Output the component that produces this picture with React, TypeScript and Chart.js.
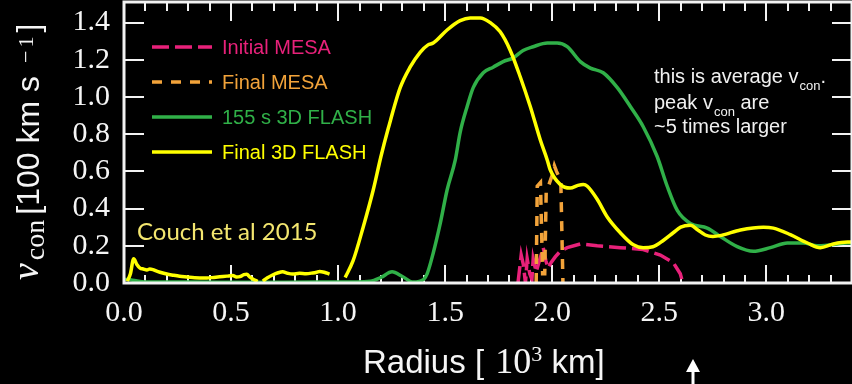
import React, { useEffect, useRef } from "react";
import { Chart, registerables } from "chart.js";
Chart.register(...registerables);

// ---------- data ----------
const xTickValues = [0, 0.5, 1.0, 1.5, 2.0, 2.5, 3.0];
const yTickValues = [0, 0.2, 0.4, 0.6, 0.8, 1.0, 1.2, 1.4];

const legendLabels = ["Initial MESA", "Final MESA", "155 s 3D FLASH", "Final 3D FLASH"];

const initialMesaX = [1.84, 1.855, 1.865, 1.875, 1.883, 1.895, 1.905, 1.911, 1.925, 1.94, 1.958, 1.97, 1.981, 1.995, 2.014, 2.037, 2.07, 2.131, 2.21, 2.318, 2.425, 2.505, 2.565, 2.598, 2.61];
const initialMesaY = [0.0, 0.15, 0.10, 0.0, 0.13, 0.05, 0.02, 0.13, 0.06, 0.12, 0.19, 0.12, 0.08, 0.11, 0.14, 0.17, 0.19, 0.21, 0.20, 0.19, 0.18, 0.15, 0.11, 0.05, 0.0];

const finalMesaX = [1.925, 1.93, 1.945, 1.955, 1.965, 1.972, 1.985, 2.0, 2.01, 2.02, 2.04, 2.05];
const finalMesaY = [0.0, 0.52, 0.54, 0.05, 0.05, 0.50, 0.53, 0.58, 0.63, 0.60, 0.55, 0.0];

const flash155X = [0.0, 0.04, 0.1, 0.3, 0.6, 0.9, 1.0, 1.15, 1.2, 1.252, 1.3, 1.35, 1.4, 1.416, 1.444, 1.477, 1.509, 1.547, 1.57, 1.603, 1.631, 1.678, 1.724, 1.771, 1.818, 1.864, 1.911, 1.977, 2.023, 2.07, 2.131, 2.178, 2.238, 2.304, 2.364, 2.425, 2.49, 2.537, 2.584, 2.645, 2.724, 2.785, 2.864, 2.939, 3.019, 3.098, 3.173, 3.238, 3.299, 3.379, 3.4];
const flash155Y = [0.02, 0.015, 0.006, 0.005, 0.004, 0.005, 0.005, 0.01, 0.03, 0.06, 0.035, 0.005, 0.02, 0.05, 0.16, 0.32, 0.50, 0.66, 0.81, 0.95, 1.05, 1.13, 1.16, 1.19, 1.21, 1.25, 1.27, 1.29, 1.29, 1.27, 1.19, 1.155, 1.13, 1.05, 0.95, 0.84, 0.68, 0.52, 0.39, 0.32, 0.295, 0.25, 0.195, 0.17, 0.19, 0.215, 0.215, 0.20, 0.205, 0.215, 0.215];

const finalFlashX = [0.015, 0.03, 0.045, 0.06, 0.075, 0.09, 0.107, 0.12, 0.135, 0.15, 0.168, 0.2, 0.228, 0.26, 0.294, 0.33, 0.387, 0.42, 0.447, 0.48, 0.508, 0.525, 0.541, 0.56, 0.573, 0.59, 0.601, 0.624, 0.636, 0.648, 0.67, 0.694, 0.72, 0.741, 0.765, 0.788, 0.82, 0.85, 0.881, 0.9, 0.913, 0.935, 0.96, 0.99, 1.033, 1.07, 1.117, 1.164, 1.2, 1.234, 1.29, 1.336, 1.383, 1.42, 1.444, 1.509, 1.57, 1.617, 1.664, 1.71, 1.757, 1.804, 1.85, 1.897, 1.944, 1.977, 1.99, 2.037, 2.084, 2.12, 2.145, 2.164, 2.21, 2.257, 2.318, 2.379, 2.425, 2.47, 2.52, 2.565, 2.6, 2.645, 2.68, 2.715, 2.75, 2.79, 2.879, 2.986, 3.033, 3.112, 3.192, 3.252, 3.313, 3.379, 3.4];
const finalFlashY = [0.01, 0.05, 0.13, 0.10, 0.08, 0.075, 0.07, 0.075, 0.072, 0.065, 0.058, 0.048, 0.042, 0.036, 0.032, 0.028, 0.027, 0.03, 0.033, 0.037, 0.04, 0.032, 0.034, 0.045, 0.047, 0.03, 0.022, 0.008, null, 0.01, 0.028, 0.043, 0.055, 0.06, 0.052, 0.048, 0.052, 0.05, 0.054, 0.058, 0.062, 0.058, 0.048, null, 0.03, 0.12, 0.30, 0.50, 0.68, 0.83, 1.05, 1.16, 1.24, 1.28, 1.29, 1.36, 1.41, 1.425, 1.425, 1.40, 1.35, 1.25, 1.11, 0.95, 0.77, 0.66, 0.61, 0.53, 0.51, 0.525, 0.53, 0.52, 0.45, 0.355, 0.27, 0.205, 0.19, 0.195, 0.23, 0.27, 0.30, 0.31, 0.285, 0.258, 0.25, 0.256, 0.285, 0.30, 0.295, 0.26, 0.215, 0.19, 0.21, 0.22, 0.22];

const PINK = "#e8217a";
const ORANGE = "#f2a33a";
const GREEN = "#30b048";
const YELLOW = "#ffff00";

const toPoints = (xs: number[], ys: (number | null)[]) => xs.map((x, i) => ({ x, y: ys[i] }));

const decor = {
  id: "decor",
  beforeDraw(chart: any) {
    const ctx = chart.ctx;
    ctx.save();
    ctx.fillStyle = "#000";
    ctx.fillRect(0, 0, chart.width, chart.height);
    ctx.restore();
  },
  beforeDatasetsDraw(chart: any) {
    const { ctx, chartArea: a, scales } = chart;
    const xs = scales.x;
    const ys = scales.y;
    ctx.save();
    ctx.strokeStyle = "#f2f2f2";
    ctx.lineWidth = 2;
    ctx.beginPath();
    for (let i = 0; i <= 34; i++) {
      const v = i / 10;
      const px = Math.round(xs.getPixelForValue(v));
      const len = i % 5 === 0 ? 18 : 8;
      ctx.moveTo(px, a.bottom);
      ctx.lineTo(px, a.bottom - len);
      ctx.moveTo(px, a.top);
      ctx.lineTo(px, a.top + len);
    }
    for (const v of yTickValues) {
      const py = Math.round(ys.getPixelForValue(v));
      ctx.moveTo(a.left, py);
      ctx.lineTo(a.left + 20, py);
      ctx.moveTo(a.right, py);
      ctx.lineTo(a.right - 20, py);
    }
    ctx.stroke();
    ctx.restore();
  },
  afterDatasetsDraw(chart: any) {
    const { ctx, chartArea: a } = chart;
    ctx.save();
    // frame
    ctx.strokeStyle = "#f2f2f2";
    ctx.lineWidth = 3;
    ctx.strokeRect(a.left, a.top - 1, a.right - a.left, a.bottom - a.top + 1);

    // legend
    const colors = [PINK, ORANGE, GREEN, YELLOW];
    const dashes = [[17, 6], [10, 9], [], []];
    const rows = [47, 82, 117, 152];
    ctx.font = '20px "Liberation Sans"';
    ctx.textBaseline = "middle";
    ctx.textAlign = "left";
    legendLabels.forEach((lab, i) => {
      ctx.strokeStyle = colors[i];
      ctx.lineWidth = 3.5;
      ctx.setLineDash(dashes[i]);
      ctx.beginPath();
      ctx.moveTo(152, rows[i]);
      ctx.lineTo(212, rows[i]);
      ctx.stroke();
      ctx.setLineDash([]);
      ctx.fillStyle = colors[i];
      ctx.fillText(lab, 222, rows[i] + 1);
    });

    // Couch et al
    ctx.textBaseline = "alphabetic";
    ctx.font = "24px Lato";
    ctx.fillStyle = "#f3e66f";
    ctx.fillText("Couch et al 2015", 137, 240);

    // annotation
    ctx.fillStyle = "#f0f0f0";
    const big = '20px "Liberation Sans"';
    const small = '13px "Liberation Sans"';
    let x = 654;
    ctx.font = big;
    ctx.fillText("this is average v", x, 83);
    x += ctx.measureText("this is average v").width + 1;
    ctx.font = small;
    ctx.fillText("con", x, 90);
    x += ctx.measureText("con").width;
    ctx.font = big;
    ctx.fillText(".", x, 83);
    x = 654;
    ctx.fillText("peak v", x, 109);
    x += ctx.measureText("peak v").width + 1;
    ctx.font = small;
    ctx.fillText("con", x, 116);
    x += ctx.measureText("con").width;
    ctx.font = big;
    ctx.fillText(" are", x, 109);
    ctx.fillText("~5 times larger", 654, 133);

    // x title
    ctx.fillStyle = "#f5f5f5";
    const sans = '33px "Liberation Sans"';
    let tx = 363;
    const by = 373;
    ctx.font = sans;
    ctx.fillText("Radius [ ", tx, by);
    tx += ctx.measureText("Radius [ ").width + 2;
    ctx.font = '36px "Liberation Serif"';
    ctx.fillText("10", tx, by);
    tx += ctx.measureText("10").width;
    ctx.font = '22px "Liberation Serif"';
    ctx.fillText("3", tx, by - 12);
    tx += ctx.measureText("3").width;
    ctx.font = sans;
    ctx.fillText(" km]", tx, by);

    // y title
    ctx.save();
    ctx.translate(39, 280);
    ctx.rotate(-Math.PI / 2);
    let s = 0;
    ctx.font = 'italic 38px "Liberation Serif"';
    ctx.fillText("v", s, -1);
    s += ctx.measureText("v").width + 3;
    ctx.font = '28px "Liberation Serif"';
    ctx.fillText("con", s, 5);
    s += ctx.measureText("con").width + 5;
    ctx.font = '32px "Liberation Sans"';
    ctx.fillText("[100 km s", s, 0);
    s += ctx.measureText("[100 km s").width + 13;
    ctx.font = '22px "Liberation Serif"';
    ctx.fillText("\u2212", s, -6);
    s += ctx.measureText("\u2212").width + 3;
    ctx.fillText("1", s, -6);
    s += ctx.measureText("1").width + 4;
    ctx.font = '32px "Liberation Sans"';
    ctx.fillText("]", s, 0);
    ctx.restore();

    // arrow
    ctx.fillStyle = "#ffffff";
    ctx.fillRect(691.5, 369, 3, 16);
    ctx.beginPath();
    ctx.moveTo(693, 359);
    ctx.lineTo(700, 372);
    ctx.lineTo(686, 372);
    ctx.closePath();
    ctx.fill();
    ctx.restore();
  },
};

export default function App() {
  const ref = useRef<HTMLCanvasElement | null>(null);
  useEffect(() => {
    if (!ref.current) return;
    const chart = new Chart(ref.current, {
      type: "line",
      data: {
        datasets: [
          {
            label: legendLabels[3],
            data: toPoints(finalFlashX, finalFlashY),
            borderColor: YELLOW,
            borderWidth: 3.5,
            pointRadius: 0,
            cubicInterpolationMode: "monotone",
            spanGaps: false,
            order: 0,
          },
          {
            label: legendLabels[2],
            data: toPoints(flash155X, flash155Y),
            borderColor: GREEN,
            borderWidth: 3.5,
            pointRadius: 0,
            cubicInterpolationMode: "monotone",
            order: 1,
          },
          {
            label: legendLabels[1],
            data: toPoints(finalMesaX, finalMesaY),
            borderColor: ORANGE,
            borderWidth: 3.5,
            borderDash: [10, 9],
            pointRadius: 0,
            tension: 0,
            order: 2,
          },
          {
            label: legendLabels[0],
            data: toPoints(initialMesaX, initialMesaY),
            borderColor: PINK,
            borderWidth: 3.5,
            borderDash: [17, 6],
            pointRadius: 0,
            tension: 0,
            order: 3,
          },
        ],
      },
      options: {
        responsive: false,
        animation: false,
        devicePixelRatio: 1,
        layout: { padding: { top: 3, right: 0, left: 0, bottom: 0 } },
        plugins: { legend: { display: false }, tooltip: { enabled: false } },
        scales: {
          x: {
            type: "linear",
            min: 0,
            max: 3.4,
            grid: { display: false, drawTicks: false },
            border: { display: false },
            ticks: {
              color: "#f5f5f5",
              font: { family: "Liberation Serif", size: 30 },
              padding: 12,
              maxRotation: 0,
              autoSkip: false,
              callback: (v: any) => Number(v).toFixed(1),
            },
            afterBuildTicks: (s: any) => {
              s.ticks = xTickValues.map((v) => ({ value: v }));
            },
            afterFit: (s: any) => {
              s.height = 101;
              s.paddingLeft = 0;
              s.paddingRight = 0;
            },
          },
          y: {
            type: "linear",
            min: 0,
            max: 1.505,
            grid: { display: false, drawTicks: false },
            border: { display: false },
            ticks: {
              color: "#f5f5f5",
              font: { family: "Liberation Serif", size: 30 },
              padding: 14,
              autoSkip: false,
              callback: (v: any) => Number(v).toFixed(1),
            },
            afterBuildTicks: (s: any) => {
              s.ticks = yTickValues.map((v) => ({ value: v }));
            },
            afterFit: (s: any) => {
              s.width = 124;
              s.paddingTop = 0;
              s.paddingBottom = 0;
            },
          },
        },
      },
      plugins: [decor],
    } as any);
    return () => chart.destroy();
  }, []);
  return (
    <div style={{ position: "fixed", left: 0, top: 0, width: 852, height: 384, background: "#000" }}>
      <canvas ref={ref} width={852} height={384} style={{ display: "block" }} />
    </div>
  );
}
